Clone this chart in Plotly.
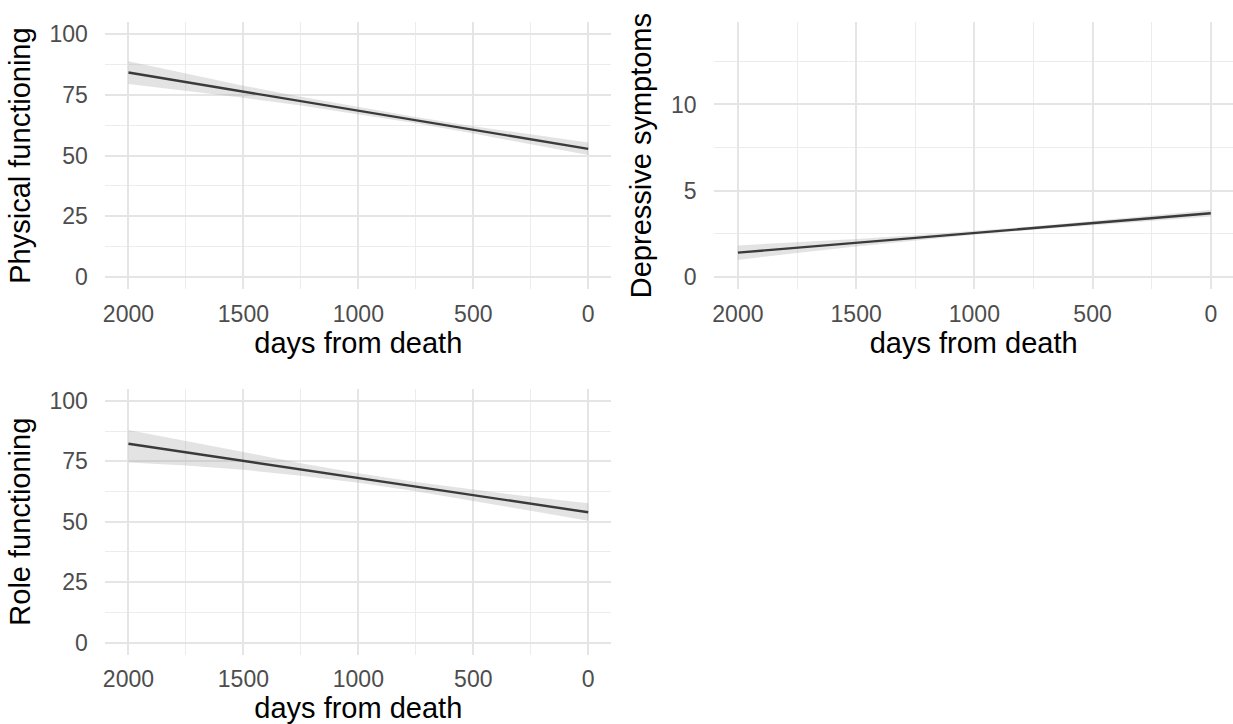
import plotly.graph_objects as go

# ---- data ----
days = [2000, 1750, 1500, 1250, 1000, 750, 500, 250, 0]

phys_fit = [84.2, 80.3, 76.3, 72.4, 68.5, 64.6, 60.6, 56.7, 52.75]
phys_upper = [88.9, 83.8, 78.8, 74.2, 69.9, 65.9, 62.1, 58.7, 55.4]
phys_lower = [79.5, 76.8, 73.8, 70.6, 67.1, 63.3, 59.1, 54.7, 50.2]

dep_fit = [1.41, 1.70, 1.98, 2.27, 2.55, 2.84, 3.12, 3.41, 3.69]
dep_upper = [1.83, 2.01, 2.20, 2.42, 2.66, 2.94, 3.24, 3.56, 3.88]
dep_lower = [0.99, 1.39, 1.76, 2.12, 2.44, 2.74, 3.00, 3.26, 3.50]

role_fit = [82.25, 78.7, 75.2, 71.6, 68.1, 64.5, 61.0, 57.4, 53.9]
role_upper = [88.0, 83.6, 78.9, 74.2, 70.1, 66.4, 63.3, 60.3, 57.6]
role_lower = [74.5, 73.3, 71.5, 69.0, 66.1, 62.6, 58.7, 54.5, 50.4]

x_tickvals = [2000, 1500, 1000, 500, 0]
x_minor_vals = [1750, 1250, 750, 250]
x_title = "days from death"
y_titles = ["Physical functioning", "Depressive symptoms", "Role functioning"]

# ---- styling ----
W, H = 1233, 724
FONT = "Liberation Sans, Arial, Helvetica, sans-serif"
TICK_SIZE = 23
TITLE_SIZE = 29
TICK_COLOR = "#4d4d4d"
GRID_MAJOR = "#e5e5e5"
GRID_MINOR = "#ececec"
LINE_COLOR = "#3a3a3a"
BAND_COLOR = "rgba(153,153,153,0.28)"

fig = go.Figure()

panels = [
    (days, phys_fit, phys_upper, phys_lower, "x", "y"),
    (days, dep_fit, dep_upper, dep_lower, "x2", "y2"),
    (days, role_fit, role_upper, role_lower, "x3", "y3"),
]
for xs, fit, up, lo, xa, ya in panels:
    fig.add_trace(go.Scatter(
        x=list(xs) + list(xs)[::-1], y=list(up) + list(lo)[::-1],
        fill="toself", fillcolor=BAND_COLOR, line=dict(width=0),
        mode="lines", hoverinfo="skip", showlegend=False, xaxis=xa, yaxis=ya))
    fig.add_trace(go.Scatter(
        x=xs, y=fit, mode="lines", line=dict(color=LINE_COLOR, width=2.4),
        showlegend=False, xaxis=xa, yaxis=ya))


def px_x(a, b):
    return [a / W, min(b / W, 1.0)]


def px_y(top, bottom):
    return [1 - bottom / H, 1 - top / H]


def xaxis_cfg(domain, rng, anchor):
    return dict(
        domain=domain, range=rng, anchor=anchor,
        tickmode="array", tickvals=x_tickvals,
        ticks="outside", ticklen=4, tickcolor="rgba(0,0,0,0)",
        tickfont=dict(size=TICK_SIZE, color=TICK_COLOR, family=FONT),
        showgrid=True, gridcolor=GRID_MAJOR, gridwidth=1.6,
        minor=dict(tickvals=x_minor_vals, showgrid=True,
                   gridcolor=GRID_MINOR, gridwidth=1.2),
        zeroline=False, showline=False,
        title=dict(text=x_title, font=dict(size=TITLE_SIZE, color="black", family=FONT),
                   standoff=3),
    )


def yaxis_cfg(domain, rng, anchor, dtick, title):
    return dict(
        domain=domain, range=rng, anchor=anchor,
        dtick=dtick, tick0=0,
        ticks="outside", ticklen=12, tickcolor="rgba(0,0,0,0)",
        tickfont=dict(size=TICK_SIZE, color=TICK_COLOR, family=FONT),
        showgrid=True, gridcolor=GRID_MAJOR, gridwidth=1.6,
        minor=dict(dtick=dtick / 2, tick0=0, showgrid=True,
                   gridcolor=GRID_MINOR, gridwidth=1.2),
        zeroline=False, showline=False,
        title=dict(text=title, font=dict(size=TITLE_SIZE, color="black", family=FONT),
                   standoff=10),
    )


top_row = px_y(21.1, 288.9)
bot_row = px_y(388.9, 655.4)
left_col = px_x(102.7, 609.7)
right_col = px_x(713.0, 1233.0)

fig.update_layout(
    width=W, height=H,
    margin=dict(l=0, r=0, t=0, b=0),
    paper_bgcolor="white", plot_bgcolor="white",
    font=dict(family=FONT),
    showlegend=False,
    xaxis=xaxis_cfg(left_col, [2100, -100], "y"),
    yaxis=yaxis_cfg(top_row, [-5, 105], "x", 25, y_titles[0]),
    xaxis2=xaxis_cfg(right_col, [2100, -94], "y2"),
    yaxis2=yaxis_cfg(top_row, [-0.704, 14.78], "x2", 5, y_titles[1]),
    xaxis3=xaxis_cfg(left_col, [2100, -100], "y3"),
    yaxis3=yaxis_cfg(bot_row, [-5, 105], "x3", 25, y_titles[2]),
)

fig.write_html("out.html", config={"displayModeBar": False},
               post_script="document.body.style.margin='0';document.body.style.overflow='hidden';")
